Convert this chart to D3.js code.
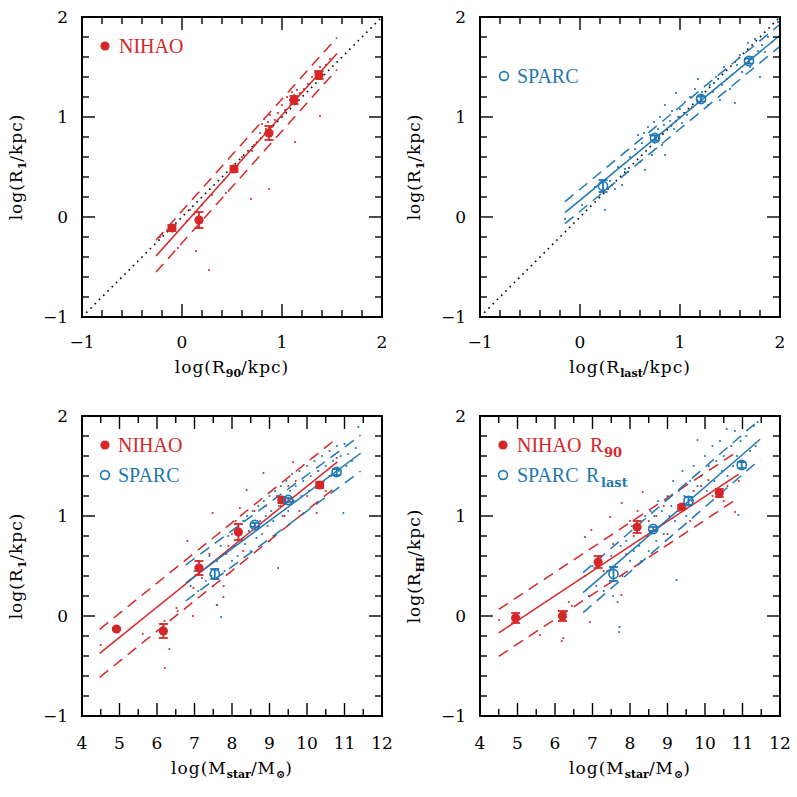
<!DOCTYPE html>
<html><head><meta charset="utf-8">
<script src="https://cdn.jsdelivr.net/npm/d3@7"></script>
<style>body{margin:0;background:#fff}</style>
</head><body>
<svg id="c" width="797" height="797" xmlns="http://www.w3.org/2000/svg"></svg>
<script>
const RED = "#d62728", BLUE = "#1f77b4";

// ---------- tick labels ----------
const ticksR = [-1, 0, 1, 2];
const ticksM = [4, 5, 6, 7, 8, 9, 10, 11, 12];

// ---------- Panel 1: NIHAO  log R90 vs log R1 ----------
const p1Dots = [[-0.22,-0.2],[-0.2,-0.17],[-0.15,-0.13],[-0.08,-0.14],[-0.1,-0.08],[0.08,0.07],[0.12,0.03],[0.2,0.12],[0.05,-0.04],
 [0.3,0.22],[0.42,0.37],[0.5,0.47],[0.55,0.5],[0.6,0.6],[0.7,0.66],[0.72,0.72],
 [0.78,0.84],[0.8,0.93],[0.82,0.98],[0.84,0.88],[0.86,0.95],[0.88,1.02],[0.9,0.9],[0.93,0.97],[0.96,1.04],
 [1.0,1.12],[1.03,1.07],[1.05,1.2],[1.08,1.17],[1.1,1.25],[1.12,1.22],[1.15,1.27],[1.18,1.24],[1.22,1.28],[1.26,1.33],
 [1.3,1.4],[1.33,1.45],[1.38,1.5],[1.4,1.43],[1.44,1.52],[1.48,1.58],
 [1.38,1.01],[1.13,0.75],[0.87,0.28],[0.69,0.18],[0.44,0.24],[0.14,-0.34],[0.27,-0.53],[-0.04,-0.31]];
const p1BinX = [-0.1, 0.17, 0.52, 0.87, 1.12, 1.37];
const p1BinY = [-0.11, -0.03, 0.48, 0.84, 1.17, 1.42];
const p1BinE = [0.03, 0.08, 0.03, 0.07, 0.04, 0.04];
const p1Fit = [-0.1, 1.12, -0.26, 1.55, 0.16]; // intercept, slope, xmin, xmax, scatter

// ---------- Panel 2: SPARC  log Rlast vs log R1 ----------
const p2Dots = [[-0.15,-0.02],[0.02,0.12],[0.15,0.3],[0.25,0.07],[0.3,0.36],[0.35,0.28],[0.38,0.5],[0.42,0.32],[0.45,0.48],[0.48,0.45],
 [0.5,0.6],[0.55,0.68],[0.58,0.82],[0.6,0.55],[0.62,0.74],[0.64,0.84],[0.65,0.47],[0.68,0.9],[0.7,0.82],[0.72,0.62],
 [0.74,0.95],[0.76,0.78],[0.78,0.88],[0.8,1.0],[0.82,0.72],[0.84,0.92],[0.85,1.12],[0.85,0.62],[0.9,0.96],[0.92,1.06],
 [0.94,0.88],[0.96,1.24],[0.98,1.0],[1.0,1.08],[1.02,0.94],[1.05,1.15],[1.07,1.02],[1.1,1.2],[1.12,1.1],[1.15,1.28],
 [1.18,1.38],[1.2,1.15],[1.22,1.25],[1.25,1.2],[1.28,1.12],[1.3,1.32],[1.33,1.25],[1.36,1.4],[1.4,1.17],[1.42,1.32],
 [1.44,1.5],[1.47,1.38],[1.5,1.28],[1.52,1.42],[1.55,1.14],[1.57,1.52],[1.6,1.62],[1.62,1.45],[1.65,1.58],[1.68,1.74],
 [1.7,1.5],[1.72,1.6],[1.75,1.78],[1.78,1.66],[1.8,1.4],[1.82,1.72],[1.85,1.65],[1.88,1.8],[1.92,1.75],[1.98,1.95]];
const p2BinX = [0.23, 0.75, 1.21, 1.69];
const p2BinY = [0.31, 0.79, 1.18, 1.56];
const p2BinE = [0.06, 0.025, 0.025, 0.025];
const p2Fit = [0.167, 0.825, -0.15, 2.0, 0.11];

// ---------- Panel 3: log Mstar vs log R1 ----------
const p3NihaoDots = [[4.5,-0.29],[4.88,-0.13],[4.95,-0.14],[5.62,-0.18],[6.1,-0.08],[6.21,-0.52],[6.33,-0.33],[6.2,-0.05],[6.52,0.08],[6.55,0.05],
 [6.81,0.75],[6.97,0.28],[6.96,0.0],[7.05,0.45],[7.1,0.55],[7.2,0.38],[7.48,1.03],[7.6,0.11],[7.77,0.19],[7.78,0.3],
 [7.4,0.62],[7.9,0.7],[8.0,0.82],[8.1,0.95],[8.21,1.08],[8.3,0.65],[8.39,1.26],[8.5,0.9],[8.6,1.05],[8.84,1.43],
 [8.9,1.1],[9.0,0.75],[9.2,1.2],[9.3,1.1],[9.4,1.0],[9.5,1.3],[9.63,1.54],[9.7,1.35],[9.8,1.05],[10.0,1.2],
 [10.26,1.03],[10.3,1.45],[10.5,1.25],[10.6,1.4],[10.79,1.58]];
const p3SparcDots = [[6.9,0.3],[7.0,0.45],[7.1,0.25],[7.2,0.5],[7.3,0.35],[7.4,0.6],[7.45,0.4],[7.5,0.3],[7.59,0.11],[7.6,0.55],
 [7.71,-0.01],[7.7,0.7],[7.8,0.45],[7.85,0.62],[7.9,0.8],[8.0,0.55],[8.05,0.7],[8.1,0.92],[8.15,0.6],[8.2,0.82],
 [8.3,0.95],[8.35,0.72],[8.4,1.0],[8.45,0.85],[8.5,0.65],[8.55,1.05],[8.6,0.9],[8.65,0.78],[8.7,1.1],[8.75,0.95],
 [8.8,0.82],[8.85,1.15],[8.9,1.0],[8.95,0.9],[9.0,1.2],[9.05,1.05],[9.1,0.95],[9.15,1.25],[9.23,0.48],[9.25,1.1],
 [9.3,1.3],[9.35,1.0],[9.4,1.18],[9.45,1.35],[9.5,1.05],[9.55,1.25],[9.6,1.42],[9.65,1.15],[9.7,1.3],[9.8,1.45],
 [9.85,1.2],[9.9,1.35],[10.0,1.5],[10.05,1.25],[10.1,1.4],[10.2,1.55],[10.25,1.3],[10.3,1.45],[10.4,1.6],[10.45,1.35],
 [10.5,1.5],[10.6,1.65],[10.65,1.4],[10.7,1.55],[10.8,1.7],[10.85,1.45],[10.9,1.6],[10.97,1.03],[11.0,1.72],[11.05,1.5],
 [11.1,1.62],[11.2,1.55],[11.3,1.68],[11.37,1.89]];
const p3NihaoBinX = [4.92, 6.17, 7.12, 8.17, 9.33, 10.34];
const p3NihaoBinY = [-0.13, -0.15, 0.48, 0.84, 1.16, 1.31];
const p3NihaoBinE = [0.01, 0.07, 0.07, 0.08, 0.03, 0.03];
const p3SparcBinX = [7.54, 8.61, 9.5, 10.79];
const p3SparcBinY = [0.42, 0.91, 1.16, 1.44];
const p3SparcBinE = [0.05, 0.02, 0.02, 0.03];
const p3NihaoFit = [-1.723, 0.302, 4.47, 10.81, 0.24];
const p3SparcFit = [-1.55, 0.278, 6.77, 11.43, 0.18];

// ---------- Panel 4: log Mstar vs log R_HI ----------
const p4NihaoDots = [[4.51,-0.04],[4.9,-0.02],[5.0,0.0],[5.6,-0.19],[6.1,0.05],[6.18,-0.25],[6.22,-0.22],[6.37,0.14],[6.45,0.1],[6.8,0.79],
 [6.93,-0.06],[6.97,0.86],[7.1,0.5],[7.2,0.6],[7.3,0.45],[7.47,0.99],[7.55,0.72],[7.67,0.14],[7.77,0.21],[7.78,1.13],
 [7.9,0.62],[8.0,0.95],[8.1,0.8],[8.2,1.05],[8.34,1.24],[8.5,0.95],[8.7,1.0],[8.9,1.1],[9.0,0.82],[9.1,1.2],
 [9.3,1.05],[9.4,1.12],[9.6,0.95],[9.7,1.25],[9.9,1.3],[10.09,1.36],[10.2,1.2],[10.35,1.25],[10.5,1.15],[10.6,1.3],
 [10.8,1.04],[10.9,1.35]];
const p4SparcDots = [[6.8,0.4],[6.9,0.2],[7.0,0.5],[7.1,0.3],[7.2,0.55],[7.3,0.25],[7.4,0.45],[7.5,0.6],[7.55,0.2],[7.6,0.5],
 [7.71,-0.16],[7.72,-0.11],[7.75,0.7],[7.8,0.4],[7.9,0.75],[8.0,0.55],[8.05,0.9],[8.1,0.65],[8.2,0.95],[8.25,0.7],
 [8.3,0.55],[8.4,1.0],[8.45,0.8],[8.5,0.65],[8.55,1.05],[8.6,0.85],[8.65,1.0],[8.7,0.75],[8.75,1.15],[8.8,0.9],
 [8.85,1.05],[8.9,0.82],[9.0,1.2],[9.05,1.0],[9.1,1.1],[9.15,1.35],[9.2,0.95],[9.24,0.36],[9.3,1.25],[9.35,1.1],
 [9.4,1.45],[9.45,1.2],[9.5,1.0],[9.6,1.35],[9.65,1.15],[9.7,1.5],[9.8,1.76],[9.8,1.3],[9.9,1.4],[10.0,1.6],
 [10.05,1.25],[10.1,1.5],[10.2,1.7],[10.25,1.35],[10.3,1.55],[10.4,1.75],[10.45,1.45],[10.5,1.6],[10.58,1.87],[10.6,1.4],
 [10.7,1.7],[10.75,1.5],[10.8,1.85],[10.85,1.6],[10.89,1.01],[10.95,1.75],[11.0,1.55],[11.1,1.8],[11.2,1.65],[11.3,1.9],
 [11.4,1.94],[11.35,1.7]];
const p4NihaoBinX = [4.95, 6.2, 7.15, 8.19, 9.38, 10.38];
const p4NihaoBinY = [-0.02, 0.0, 0.54, 0.89, 1.09, 1.23];
const p4NihaoBinE = [0.05, 0.05, 0.06, 0.06, 0.02, 0.04];
const p4SparcBinX = [7.56, 8.62, 9.56, 10.98];
const p4SparcBinY = [0.42, 0.87, 1.15, 1.51];
const p4SparcBinE = [0.07, 0.02, 0.04, 0.03];
const p4NihaoFit = [-1.285, 0.248, 4.5, 10.9, 0.235];
const p4SparcFit = [-1.96, 0.325, 6.75, 11.47, 0.2];

// ================= drawing =================
const svg = d3.select("#c");
const W = 300, H = 300;
const AXF = "'DejaVu Serif', serif";
const LEGF = "'Liberation Serif', 'Times New Roman', serif";

function makePanel(o) {
  const x = d3.scaleLinear().domain(o.xd).range([o.left, o.left + W]);
  const y = d3.scaleLinear().domain(o.yd).range([o.top + H, o.top]);
  const g = svg.append("g");
  const cid = "clip" + o.id;
  svg.append("clipPath").attr("id", cid).append("rect")
    .attr("x", o.left).attr("y", o.top).attr("width", W).attr("height", H);
  const plot = g.append("g").attr("clip-path", `url(#${cid})`);
  const tg = g.append("g").attr("stroke", "#000").attr("stroke-width", 1.4);
  const isMajor = v => Math.abs(v - Math.round(v)) < 1e-6;
  const xs = d3.range(0, Math.round((o.xd[1] - o.xd[0]) / o.xMinor) + 1).map(i => o.xd[0] + i * o.xMinor);
  xs.forEach(v => {
    const L = isMajor(v) ? 13 : 7, px = x(v);
    tg.append("line").attr("x1", px).attr("x2", px).attr("y1", o.top + H).attr("y2", o.top + H - L);
    tg.append("line").attr("x1", px).attr("x2", px).attr("y1", o.top).attr("y2", o.top + L);
  });
  const ys = d3.range(0, Math.round((o.yd[1] - o.yd[0]) / 0.2) + 1).map(i => o.yd[0] + i * 0.2);
  ys.forEach(v => {
    const L = isMajor(v) ? 13 : 7, py = y(v);
    tg.append("line").attr("y1", py).attr("y2", py).attr("x1", o.left).attr("x2", o.left + L);
    tg.append("line").attr("y1", py).attr("y2", py).attr("x1", o.left + W).attr("x2", o.left + W - L);
  });
  g.append("rect").attr("x", o.left).attr("y", o.top).attr("width", W).attr("height", H)
    .attr("fill", "none").attr("stroke", "#000").attr("stroke-width", 2);
  const fmt = v => (v < 0 ? "\u2212" + Math.abs(v) : String(v));
  o.xTicks.forEach(v => {
    g.append("text").attr("x", x(v)).attr("y", o.top + H + 31 + o.dyTick)
      .attr("text-anchor", "middle").attr("font-family", AXF).attr("font-size", 17).text(fmt(v));
  });
  ticksR.forEach(v => {
    g.append("text").attr("x", o.left - 14).attr("y", y(v) + 6)
      .attr("text-anchor", "end").attr("font-family", AXF).attr("font-size", 17).text(fmt(v));
  });
  axisLabel(g, o.left + W / 2, o.top + H + 56 + o.dyTick, 0, o.xLab);
  axisLabel(g, o.left - 60, o.top + H / 2, -90, o.yLab);
  return { x, y, plot, g };
}

function axisLabel(g, px, py, rot, parts) {
  const t = g.append("text").attr("transform", `translate(${px},${py}) rotate(${rot})`)
    .attr("text-anchor", "middle").attr("font-family", AXF).attr("font-size", 17)
    .attr("letter-spacing", 1);
  let sub = false;
  parts.forEach(([s, isSub]) => {
    const ts = t.append("tspan").text(s);
    if (isSub && !sub) { ts.attr("dy", 4).attr("font-size", 11).attr("font-weight", "bold").attr("letter-spacing", 0); sub = true; }
    else if (!isSub && sub) { ts.attr("dy", -4); sub = false; }
  });
}

function drawDots(P, dots, color) {
  P.plot.append("g").selectAll("circle").data(dots).join("circle")
    .attr("cx", d => P.x(d[0])).attr("cy", d => P.y(d[1])).attr("r", 1.05).attr("fill", color);
}

function drawFit(P, fit, color) {
  const [a, b, x0, x1, s] = fit;
  const line = d3.line().x(d => P.x(d[0])).y(d => P.y(d[1]));
  const seg = off => [[x0, a + b * x0 + off], [x1, a + b * x1 + off]];
  P.plot.append("path").attr("d", line(seg(0))).attr("stroke", color).attr("stroke-width", 1.5).attr("fill", "none");
  [s, -s].forEach(off => {
    P.plot.append("path").attr("d", line(seg(off))).attr("stroke", color).attr("stroke-width", 1.5)
      .attr("fill", "none").attr("stroke-dasharray", "11,7");
  });
}

function drawOneToOne(P) {
  const line = d3.line().x(d => P.x(d[0])).y(d => P.y(d[1]));
  P.plot.append("path").attr("d", line([[-1, -1], [2, 2]])).attr("stroke", "#000")
    .attr("stroke-width", 1.6).attr("fill", "none").attr("stroke-dasharray", "1.6,4.4");
}

function drawBins(P, xs, ys, es, color, filled) {
  const g = P.plot.append("g");
  xs.forEach((xv, i) => {
    const px = P.x(xv), y0 = P.y(ys[i] - es[i]), y1 = P.y(ys[i] + es[i]);
    g.append("line").attr("x1", px).attr("x2", px).attr("y1", y0).attr("y2", y1).attr("stroke", color).attr("stroke-width", 1.8);
    [y0, y1].forEach(yy => g.append("line").attr("x1", px - 4.5).attr("x2", px + 4.5).attr("y1", yy).attr("y2", yy)
      .attr("stroke", color).attr("stroke-width", 1.8));
    const c = g.append("circle").attr("cx", px).attr("cy", P.y(ys[i])).attr("r", 4.6);
    if (filled) c.attr("fill", color);
    else c.attr("fill", "none").attr("stroke", color).attr("stroke-width", 1.6);
  });
}

function legendItem(px, py, color, filled, parts) {
  const c = svg.append("circle").attr("cx", px).attr("cy", py).attr("r", filled ? 4.6 : 4.4);
  if (filled) c.attr("fill", color); else c.attr("fill", "none").attr("stroke", color).attr("stroke-width", 1.6);
  parts.forEach(p => {
    svg.append("text").attr("x", p.x).attr("y", py + 7 + (p.sub ? 5 : 0))
      .attr("font-family", p.sub ? AXF : LEGF).attr("font-size", p.sub ? 13 : 20)
      .attr("font-weight", p.sub ? "bold" : "normal").attr("fill", color).text(p.t);
  });
}

const logR90 = [["log(R", 0], ["90", 1], ["/kpc)", 0]];
const logR1 = [["log(R", 0], ["1", 1], ["/kpc)", 0]];
const logRlast = [["log(R", 0], ["last", 1], ["/kpc)", 0]];
const logRHI = [["log(R", 0], ["HI", 1], ["/kpc)", 0]];
const logM = [["log(M", 0], ["star", 1], ["/M", 0], ["\u2299", 1], [")", 0]];

// Panel 1
const P1 = makePanel({ id: 1, left: 82, top: 17, xd: [-1, 2], yd: [-1, 2], xMinor: 0.2, xTicks: ticksR, xLab: logR90, yLab: logR1, dyTick: 0 });
drawOneToOne(P1);
drawDots(P1, p1Dots, RED);
drawFit(P1, p1Fit, RED);
drawBins(P1, p1BinX, p1BinY, p1BinE, RED, true);
legendItem(105, 46, RED, true, [{ t: "NIHAO", x: 119 }]);

// Panel 2
const P2 = makePanel({ id: 2, left: 480, top: 17, xd: [-1, 2], yd: [-1, 2], xMinor: 0.2, xTicks: ticksR, xLab: logRlast, yLab: logR1, dyTick: 0 });
drawOneToOne(P2);
drawDots(P2, p2Dots, BLUE);
drawFit(P2, p2Fit, BLUE);
drawBins(P2, p2BinX, p2BinY, p2BinE, BLUE, false);
legendItem(504, 76, BLUE, false, [{ t: "SPARC", x: 517 }]);

// Panel 3
const P3 = makePanel({ id: 3, left: 82, top: 416, xd: [4, 12], yd: [-1, 2], xMinor: 0.5, xTicks: ticksM, xLab: logM, yLab: logR1, dyTick: 2 });
drawDots(P3, p3NihaoDots, RED);
drawDots(P3, p3SparcDots, BLUE);
drawFit(P3, p3NihaoFit, RED);
drawFit(P3, p3SparcFit, BLUE);
drawBins(P3, p3NihaoBinX, p3NihaoBinY, p3NihaoBinE, RED, true);
drawBins(P3, p3SparcBinX, p3SparcBinY, p3SparcBinE, BLUE, false);
legendItem(105, 445, RED, true, [{ t: "NIHAO", x: 118 }]);
legendItem(105, 475, BLUE, false, [{ t: "SPARC", x: 118 }]);

// Panel 4
const P4 = makePanel({ id: 4, left: 480, top: 416, xd: [4, 12], yd: [-1, 2], xMinor: 0.5, xTicks: ticksM, xLab: logM, yLab: logRHI, dyTick: 2 });
drawDots(P4, p4NihaoDots, RED);
drawDots(P4, p4SparcDots, BLUE);
drawFit(P4, p4NihaoFit, RED);
drawFit(P4, p4SparcFit, BLUE);
drawBins(P4, p4NihaoBinX, p4NihaoBinY, p4NihaoBinE, RED, true);
drawBins(P4, p4SparcBinX, p4SparcBinY, p4SparcBinE, BLUE, false);
legendItem(503, 445, RED, true, [{ t: "NIHAO", x: 517 }, { t: "R", x: 590 }, { t: "90", x: 604, sub: true }]);
legendItem(503, 475, BLUE, false, [{ t: "SPARC", x: 517 }, { t: "R", x: 586 }, { t: "last", x: 601, sub: true }]);
</script>
</body></html>
